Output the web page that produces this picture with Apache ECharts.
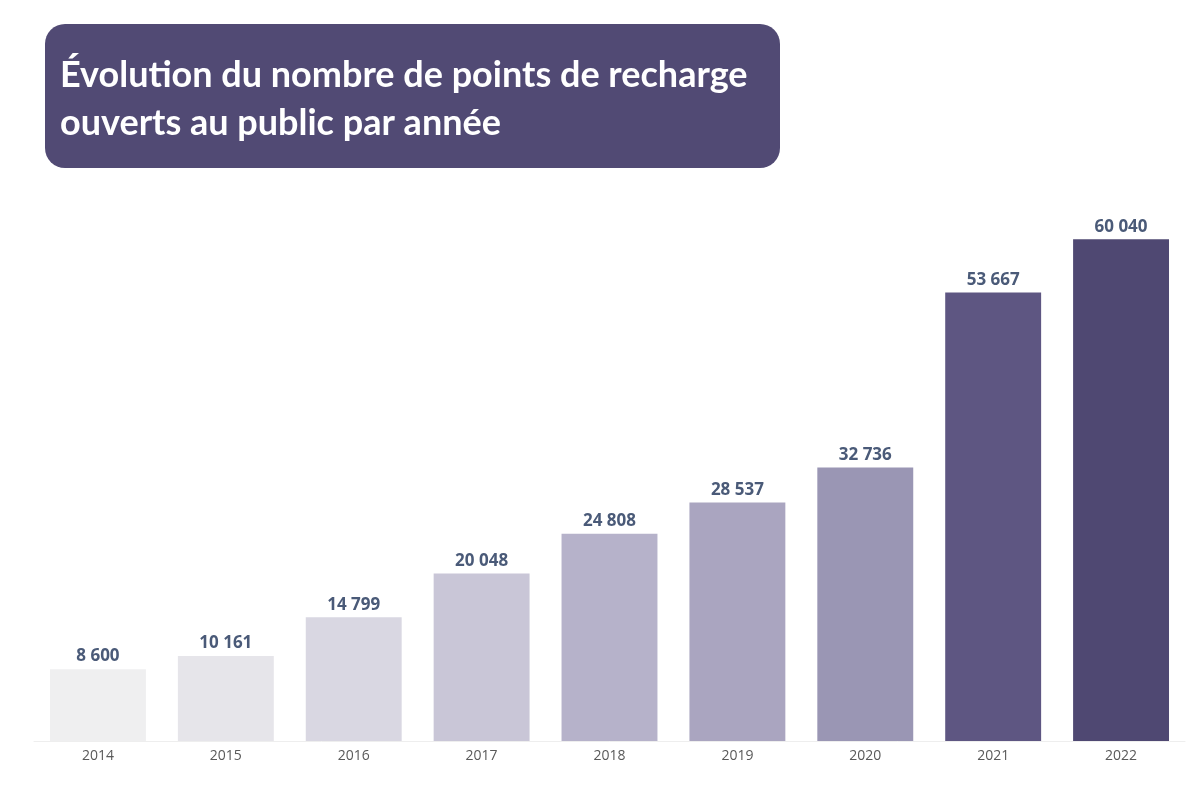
<!DOCTYPE html>
<html><head><meta charset="utf-8">
<script src="https://cdn.jsdelivr.net/npm/echarts@6/dist/echarts.min.js"></script>
<style>html,body{margin:0;padding:0;background:#fff}#c{width:1200px;height:794px}</style>
</head><body><div id="c"></div>
<script>
const years = ['2014','2015','2016','2017','2018','2019','2020','2021','2022'];
const points = [8600, 10161, 14799, 20048, 24808, 28537, 32736, 53667, 60040];
const barColors = ['#efeff0','#e6e5ea','#d9d7e2','#c9c6d7','#b6b2ca','#aaa5c0','#9a96b4','#5e5682','#4f4872'];
const titleLines = ['Évolution du nombre de points de recharge', 'ouverts au public par année'];

const chart = echarts.init(document.getElementById('c'), null, {renderer:'canvas'});
chart.setOption({
  backgroundColor:'#ffffff',
  animation:false,
  grid:{left:34, width:1151, top:156, bottom:53},
  xAxis:{type:'category', data:years,
    axisLine:{show:true, lineStyle:{color:'#eeeeee', width:1}},
    axisTick:{show:false},
    axisLabel:{color:'#595959', fontSize:14, fontFamily:'Open Sans', margin:8}},
  yAxis:{type:'value', min:0, max:70000, show:false, splitLine:{show:false}},
  series:[{type:'bar', barCategoryGap:'25%',
    data: points.map((v,i)=>({value:v, itemStyle:{color:barColors[i]}})),
    label:{show:true, position:'top', distance:4, color:'#4a5a78', fontWeight:'bold',
      fontSize:17, fontFamily:'Open Sans',
      formatter:p=>String(p.value).replace(/\B(?=(\d{3})+(?!\d))/g,' ')}}],
  graphic:[
    {type:'rect', left:45, top:24, shape:{width:735, height:144, r:20}, style:{fill:'#514a74'}},
    {type:'text', left:60, top:51, style:{text:titleLines.join('\n'), fill:'#ffffff',
      font:'bold 36px Lato', lineHeight:48}}
  ]
});
</script></body></html>
